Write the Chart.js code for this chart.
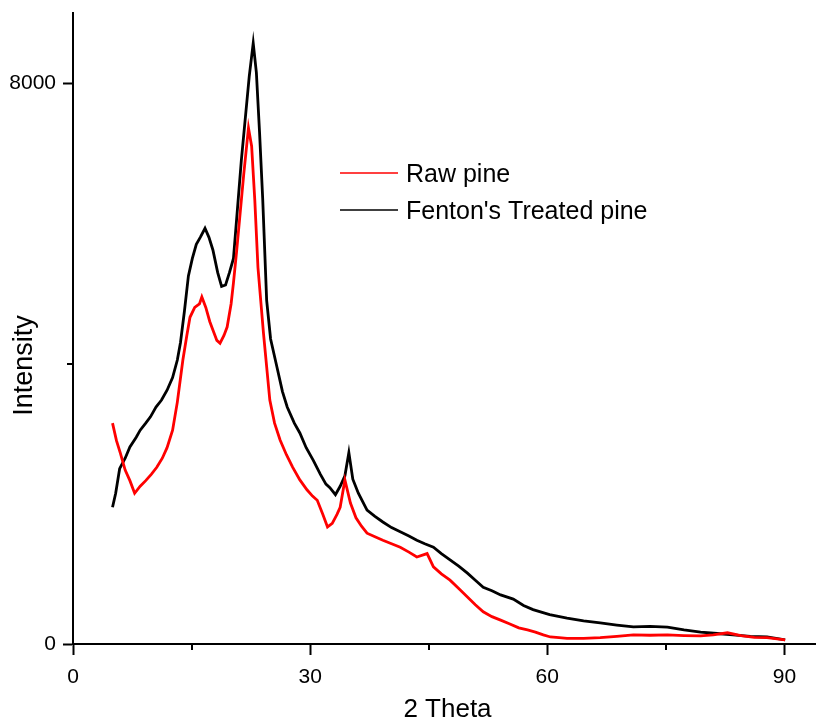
<!DOCTYPE html>
<html>
<head>
<meta charset="utf-8">
<title>XRD pine</title>
<script src="https://cdn.jsdelivr.net/npm/chart.js@4.4.1/dist/chart.umd.min.js"></script>
<style>
  html, body { margin: 0; padding: 0; background: #fff; }
  #wrap { width: 816px; height: 719px; position: relative; }
</style>
</head>
<body>
<div id="wrap"><canvas id="xrd"></canvas></div>
<script>
// tick values and labels
const xTicks = [0, 15, 30, 45, 60, 75, 90];
const xMajor = [0, 30, 60, 90];
const yTicks = [0, 4000, 8000];
const yMajor = [0, 8000];

// Raw pine (red)
const rawTheta = [5.0, 5.5, 6.0, 6.6, 7.2, 7.8, 8.5, 9.2, 9.9, 10.6, 11.3, 11.9, 12.6, 13.2, 13.9, 14.4, 14.8, 15.4, 16.0, 16.3, 16.8, 17.3, 17.7, 18.2, 18.6, 19.1, 19.5, 20.0, 20.3, 20.7, 21.1, 21.6, 22.2, 22.6, 23.0, 23.4, 24.1, 24.9, 25.5, 26.2, 27.0, 27.8, 28.7, 29.6, 30.3, 30.9, 31.6, 32.2, 32.8, 33.4, 33.8, 34.4, 35.1, 35.8, 36.5, 37.2, 38.2, 39.2, 40.3, 41.4, 42.5, 43.5, 44.8, 45.6, 46.6, 47.7, 48.8, 49.9, 50.9, 51.9, 53.0, 54.1, 55.2, 56.4, 57.5, 58.5, 59.5, 60.4, 61.5, 62.5, 64.6, 66.7, 68.8, 70.9, 73.0, 75.2, 77.3, 79.4, 81.0, 82.8, 84.5, 86.2, 87.8, 90.1];
const rawIntensity = [3150, 2900, 2720, 2480, 2330, 2150, 2250, 2330, 2420, 2520, 2650, 2800, 3050, 3450, 4050, 4400, 4660, 4800, 4850, 4950, 4800, 4600, 4480, 4330, 4290, 4400, 4520, 4850, 5150, 5600, 6090, 6700, 7360, 7100, 6330, 5370, 4430, 3480, 3150, 2910, 2700, 2520, 2340, 2200, 2110, 2050, 1850, 1670, 1720, 1850, 1950, 2340, 2010, 1800, 1680, 1580, 1530, 1480, 1430, 1380, 1310, 1240, 1290, 1100, 1000, 910, 790, 670, 560, 460, 390, 340, 290, 230, 200, 170, 130, 100, 90, 80, 80, 90, 110, 130, 125, 130, 120, 115, 130, 160, 120, 95, 90, 60];

// Fenton's treated pine (black)
const fentonTheta = [5.0, 5.4, 5.9, 6.6, 7.2, 8.0, 8.5, 9.2, 9.8, 10.5, 11.2, 11.9, 12.6, 13.2, 13.6, 14.1, 14.6, 15.1, 15.6, 16.1, 16.7, 17.2, 17.7, 18.3, 18.8, 19.3, 19.8, 20.3, 20.8, 21.3, 21.8, 22.3, 22.8, 23.2, 23.6, 24.0, 24.5, 25.0, 25.8, 26.5, 27.1, 28.0, 28.7, 29.5, 30.4, 31.3, 32.0, 32.5, 33.2, 33.8, 34.4, 34.9, 35.4, 36.1, 37.2, 38.2, 39.2, 40.3, 41.4, 42.5, 43.5, 44.5, 45.6, 46.6, 47.7, 48.8, 49.9, 50.9, 51.9, 53.0, 54.1, 55.7, 57.0, 58.2, 60.3, 62.5, 64.6, 66.7, 68.8, 70.9, 73.0, 75.2, 77.3, 79.4, 81.5, 83.5, 85.7, 87.8, 90.1];
const fentonIntensity = [1950, 2150, 2500, 2650, 2810, 2950, 3050, 3150, 3240, 3380, 3480, 3620, 3800, 4050, 4300, 4750, 5250, 5500, 5700, 5800, 5930, 5800, 5620, 5300, 5100, 5120, 5300, 5500, 6200, 6900, 7500, 8100, 8570, 8150, 7300, 6350, 4900, 4350, 3950, 3600, 3380, 3150, 3010, 2800, 2620, 2420, 2280, 2230, 2130, 2250, 2400, 2730, 2350, 2150, 1910, 1820, 1740, 1660, 1600, 1540, 1480, 1430, 1380, 1290, 1200, 1110, 1010, 910, 810, 760, 700, 640, 550, 490, 420, 370, 330, 300, 270, 245, 250, 240, 200, 170, 150, 130, 110, 100, 60];

const seriesNames = ["Raw pine", "Fenton's Treated pine"];
const seriesColors = ["#ff0000", "#000000"];

const pts = (xs, ys) => xs.map((x, i) => ({ x, y: ys[i] }));
const FONT = "'Liberation Sans', Arial, sans-serif";

// minor ticks, axis titles and the in-plot legend
const extras = {
  id: "extras",
  afterDraw(chart) {
    const ctx = chart.ctx;
    const xs = chart.scales.x, ys = chart.scales.y;
    ctx.save();
    ctx.strokeStyle = "#000";
    ctx.lineWidth = 2;
    xTicks.filter((v) => !xMajor.includes(v)).forEach((v) => {
      const px = Math.round(xs.getPixelForValue(v));
      ctx.beginPath();
      ctx.moveTo(px, xs.top);
      ctx.lineTo(px, xs.top + 6);
      ctx.stroke();
    });
    yTicks.filter((v) => !yMajor.includes(v)).forEach((v) => {
      const py = Math.round(ys.getPixelForValue(v));
      ctx.beginPath();
      ctx.moveTo(ys.right, py);
      ctx.lineTo(ys.right - 6, py);
      ctx.stroke();
    });

    // axis titles
    ctx.fillStyle = "#000";
    ctx.font = "26px " + FONT;
    ctx.textAlign = "center";
    ctx.textBaseline = "alphabetic";
    ctx.fillText("2 Theta", (chart.chartArea.left + chart.chartArea.right) / 2 + 3, 717);
    ctx.save();
    ctx.translate(32, ys.getPixelForValue(4000) + 2);
    ctx.rotate(-Math.PI / 2);
    ctx.font = "27px " + FONT;
    ctx.fillText("Intensity", 0, 0);
    ctx.restore();

    // legend
    ctx.font = "25px " + FONT;
    ctx.textAlign = "left";
    ctx.lineWidth = 1.5;
    seriesNames.forEach((name, i) => {
      const y = 173 + i * 37;
      ctx.strokeStyle = seriesColors[i];
      ctx.beginPath();
      ctx.moveTo(340, y);
      ctx.lineTo(398, y);
      ctx.stroke();
      ctx.fillStyle = "#000";
      ctx.fillText(name, 406, y + 9);
    });
    ctx.restore();
  },
};

new Chart(document.getElementById("xrd"), {
  type: "line",
  data: {
    datasets: [
      {
        label: seriesNames[0],
        data: pts(rawTheta, rawIntensity),
        borderColor: seriesColors[0],
        borderWidth: 2.8,
        pointRadius: 0,
        tension: 0,
      },
      {
        label: seriesNames[1],
        data: pts(fentonTheta, fentonIntensity),
        borderColor: seriesColors[1],
        borderWidth: 2.8,
        pointRadius: 0,
        tension: 0,
      },
    ],
  },
  options: {
    responsive: true,
    maintainAspectRatio: false,
    animation: false,
    layout: { padding: { top: 13, right: 0, left: 0, bottom: 0 } },
    plugins: { legend: { display: false }, tooltip: { enabled: false } },
    scales: {
      x: {
        type: "linear",
        min: 0,
        max: 94,
        afterBuildTicks: (s) => { s.ticks = xTicks.map((v) => ({ value: v })); },
        afterFit: (s) => { s.height = 75; s.paddingRight = 0; },
        border: { display: true, color: "#000", width: 2 },
        grid: {
          drawOnChartArea: false,
          tickLength: 11,
          tickWidth: 2,
          tickColor: (c) => (c.tick && xMajor.includes(c.tick.value) ? "#000" : "rgba(0,0,0,0)"),
        },
        ticks: {
          color: "#000",
          font: { family: FONT, size: 21 },
          padding: 10,
          maxRotation: 0,
          autoSkip: false,
          callback: (v) => (xMajor.includes(v) ? String(v) : ""),
        },
      },
      y: {
        min: 0,
        max: 9000,
        afterBuildTicks: (s) => { s.ticks = yTicks.map((v) => ({ value: v })); },
        afterFit: (s) => { s.width = 73; s.paddingTop = 0; s.paddingBottom = 0; },
        border: { display: true, color: "#000", width: 2 },
        grid: {
          drawOnChartArea: false,
          tickLength: 10,
          tickWidth: 2,
          tickColor: (c) => (c.tick && yMajor.includes(c.tick.value) ? "#000" : "rgba(0,0,0,0)"),
        },
        ticks: {
          color: "#000",
          font: { family: FONT, size: 21 },
          padding: 7,
          autoSkip: false,
          callback: (v) => (yMajor.includes(v) ? String(v) : ""),
        },
      },
    },
  },
  plugins: [extras],
});
</script>
</body>
</html>
